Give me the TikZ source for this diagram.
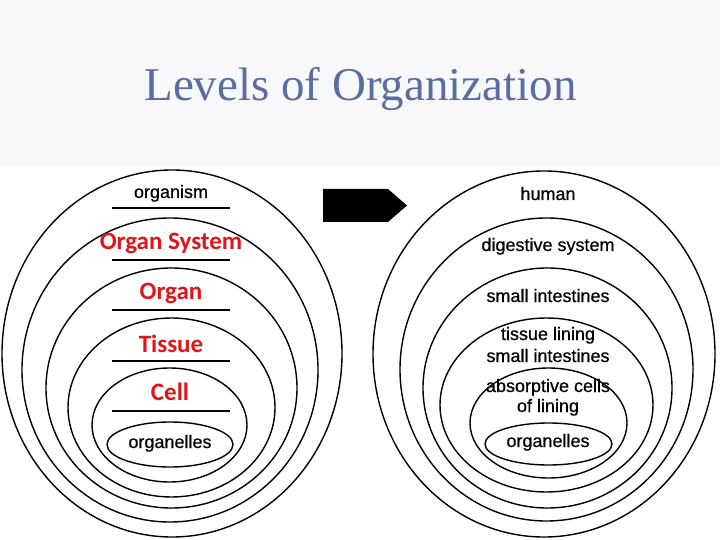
\documentclass[tikz,border=0pt]{standalone}
\usepackage{fontspec}
\newfontfamily\arialf[FakeBold=0.5]{Liberation Sans}
\newfontfamily\calibf{Carlito}
\newfontfamily\titlef{Liberation Serif}
\definecolor{titleblue}{RGB}{92,108,160}
\definecolor{lvlred}{RGB}{222,22,26}
\definecolor{bandbg}{RGB}{247,248,250}
\begin{document}
\begin{tikzpicture}[x=1bp,y=-1bp,
  ring/.style={draw=black,line width=1.4bp},
  rule/.style={draw=black,line width=1.4bp},
  blacklbl/.style={inner sep=0pt,anchor=base,font=\arialf\fontsize{18bp}{20bp}\selectfont,text=black},
  redlbl/.style={inner sep=0pt,anchor=base,font=\calibf\bfseries\fontsize{25bp}{28bp}\selectfont,text=lvlred},
  titlelbl/.style={inner sep=0pt,anchor=base,font=\titlef\fontsize{47bp}{50bp}\selectfont,text=titleblue}]
\useasboundingbox (0,0) rectangle (720,540);
\fill[white] (0,0) rectangle (720,540);
\fill[bandbg] (0,0) rectangle (720,167);
\node[titlelbl] (title) at (360.5,101) {Levels of Organization};

% left diagram
\draw[ring] (172,353.5) ellipse [x radius=170bp, y radius=183.5bp];
\draw[ring] (170,370) ellipse [x radius=148bp, y radius=152bp];
\draw[ring] (171.5,388) ellipse [x radius=125.5bp, y radius=120bp];
\draw[ring] (171.5,407.5) ellipse [x radius=103.5bp, y radius=89.5bp];
\draw[ring] (169.5,425) ellipse [x radius=77.5bp, y radius=57bp];
\draw[ring] (170,444.5) ellipse [x radius=63bp, y radius=22.5bp];

\foreach \yy in {208,260,310,361,411} \draw[rule] (112,\yy) -- (230,\yy);

\node[blacklbl] (organism) at (171,198) {organism};
\node[redlbl] (orgsys) at (171,250) {Organ System};
\node[redlbl] (organ) at (171,299) {Organ};
\node[redlbl] (tissue) at (171,352) {Tissue};
\node[redlbl] (cell) at (170,400) {Cell};
\node[blacklbl] (organellesL) at (170,448) {organelles};

% arrow
\fill[black] (323,189) -- (388,189) -- (407,205.5) -- (388,222) -- (323,222) -- cycle;

% right diagram
\draw[ring] (544,354) ellipse [x radius=171bp, y radius=183bp];
\draw[ring] (546.5,369.5) ellipse [x radius=146.5bp, y radius=151.5bp];
\draw[ring] (547.5,388) ellipse [x radius=124.5bp, y radius=120bp];
\draw[ring] (546.5,405) ellipse [x radius=106.5bp, y radius=87bp];
\draw[ring] (548.5,423) ellipse [x radius=78.5bp, y radius=55bp];
\draw[ring] (548.5,444) ellipse [x radius=63.5bp, y radius=21bp];

\node[blacklbl] (human) at (548,200) {human};
\node[blacklbl] (digest) at (548,251) {digestive system};
\node[blacklbl] (smallint) at (548,302) {small intestines};
\node[blacklbl] (tisslin) at (548,340) {tissue lining};
\node[blacklbl] (smallint2) at (548,362) {small intestines};
\node[blacklbl] (absorb) at (548,392) {absorptive cells};
\node[blacklbl] (oflin) at (548,412) {of lining};
\node[blacklbl] (organellesR) at (548,447) {organelles};
\end{tikzpicture}
\end{document}
